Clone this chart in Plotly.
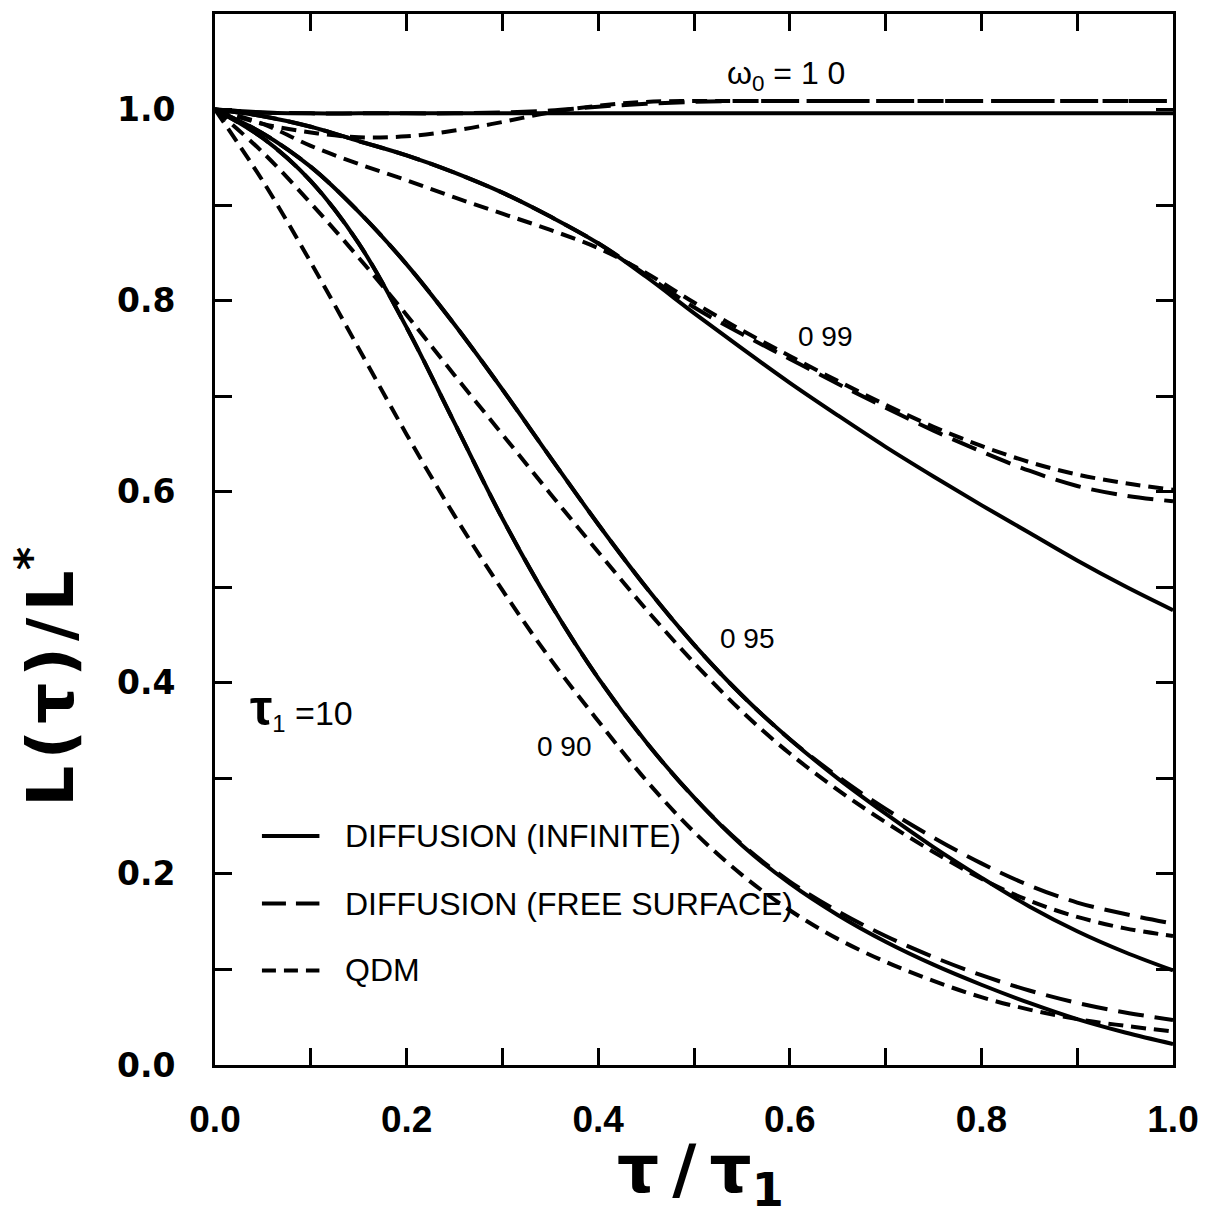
import plotly.graph_objects as go

# ---------------- data ----------------
tau_ratio = [0, 0.05, 0.1, 0.15, 0.2, 0.25, 0.3, 0.35, 0.4, 0.45, 0.5,
             0.55, 0.6, 0.65, 0.7, 0.75, 0.8, 0.85, 0.9, 0.95, 1.0]

# omega0 = 1.0
inf_100 = [1.0, 0.997, 0.996, 0.996, 0.996, 0.996, 0.996, 0.996, 0.996, 0.996, 0.996,
           0.996, 0.996, 0.996, 0.996, 0.996, 0.996, 0.996, 0.996, 0.996, 0.996]
free_100 = [1.0, 0.997, 0.996, 0.996, 0.996, 0.996, 0.997, 0.999, 1.003, 1.006, 1.008,
            1.009, 1.009, 1.009, 1.009, 1.009, 1.009, 1.009, 1.009, 1.009, 1.009]
qdm_100 = [1.0, 0.985, 0.976, 0.971, 0.972, 0.978, 0.987, 0.997, 1.004, 1.008, 1.009,
           1.009, 1.009, 1.009, 1.009, 1.009, 1.009, 1.009, 1.009, 1.009, 1.009]

# omega0 = 0.99
inf_099 = [1.0, 0.993, 0.982, 0.967, 0.952, 0.934, 0.913, 0.888, 0.86, 0.825, 0.787,
           0.75, 0.714, 0.68, 0.647, 0.616, 0.586, 0.557, 0.528, 0.501, 0.476]
free_099 = [1.0, 0.993, 0.982, 0.967, 0.952, 0.934, 0.913, 0.888, 0.86, 0.827, 0.793,
            0.765, 0.739, 0.713, 0.688, 0.664, 0.642, 0.622, 0.606, 0.596, 0.59]
qdm_099 = [1.0, 0.985, 0.962, 0.943, 0.926, 0.908, 0.891, 0.874, 0.855, 0.829, 0.798,
           0.769, 0.742, 0.716, 0.691, 0.668, 0.648, 0.631, 0.618, 0.609, 0.602]

# omega0 = 0.95
inf_095 = [1.0, 0.975, 0.94, 0.893, 0.838, 0.775, 0.707, 0.636, 0.566, 0.5, 0.44,
           0.387, 0.341, 0.3, 0.263, 0.228, 0.196, 0.166, 0.14, 0.118, 0.099]
free_095 = [1.0, 0.975, 0.94, 0.893, 0.838, 0.775, 0.707, 0.636, 0.566, 0.5, 0.44,
            0.387, 0.341, 0.302, 0.268, 0.238, 0.211, 0.188, 0.17, 0.158, 0.148]
qdm_095 = [1.0, 0.955, 0.902, 0.845, 0.785, 0.722, 0.66, 0.598, 0.537, 0.477, 0.421,
           0.37, 0.326, 0.288, 0.254, 0.223, 0.195, 0.172, 0.155, 0.143, 0.135]

# omega0 = 0.90
inf_090 = [1.0, 0.97, 0.925, 0.86, 0.772, 0.672, 0.572, 0.483, 0.405, 0.338, 0.28,
           0.23, 0.19, 0.157, 0.129, 0.105, 0.084, 0.065, 0.048, 0.034, 0.022]
free_090 = [1.0, 0.97, 0.925, 0.86, 0.772, 0.672, 0.572, 0.483, 0.405, 0.338, 0.28,
            0.231, 0.192, 0.161, 0.135, 0.113, 0.094, 0.078, 0.065, 0.055, 0.047]
qdm_090 = [1.0, 0.925, 0.84, 0.75, 0.66, 0.575, 0.497, 0.425, 0.36, 0.298, 0.244,
           0.199, 0.162, 0.132, 0.108, 0.088, 0.071, 0.058, 0.048, 0.041, 0.035]

curve_labels = ["0 99", "0 95", "0 90"]
legend_labels = ["DIFFUSION (INFINITE)", "DIFFUSION (FREE SURFACE)", "QDM"]

# ---------------- styles ----------------
LW = 4
SOLID = "solid"
LONG = "26px,11px"
SHORT = "15px,8px"
BLACK = "black"

fig = go.Figure()

groups = [
    ("1.0", inf_100, free_100, qdm_100),
    ("0.99", inf_099, free_099, qdm_099),
    ("0.95", inf_095, free_095, qdm_095),
    ("0.90", inf_090, free_090, qdm_090),
]
for w, inf_v, free_v, qdm_v in groups:
    for name, vals, dash in [(legend_labels[0], inf_v, SOLID),
                             (legend_labels[1], free_v, LONG),
                             (legend_labels[2], qdm_v, SHORT)]:
        fig.add_trace(go.Scatter(
            x=tau_ratio, y=vals, mode="lines",
            name=f"{name}, ω0={w}",
            line=dict(color=BLACK, width=LW, dash=dash, shape="spline", smoothing=1.0),
            showlegend=False, hoverinfo="skip",
        ))

# legend drawn inside the plot like the original
leg_y = [0.2396, 0.169, 0.099]
leg_dash = [SOLID, "24px,10px", "14px,8px"]
shapes = []
annotations = []
for yy, dash, lab in zip(leg_y, leg_dash, legend_labels):
    shapes.append(dict(type="line", xref="x", yref="y", x0=0.049, x1=0.109, y0=yy, y1=yy,
                       line=dict(color=BLACK, width=LW, dash=dash)))
    annotations.append(dict(xref="x", yref="y", x=0.134, y=yy, text=lab, showarrow=False,
                            xanchor="left", yanchor="middle",
                            font=dict(family="Liberation Sans", size=32, color=BLACK)))

label_font = dict(family="Liberation Sans", size=28, color=BLACK)
annotations += [
    dict(xref="x", yref="y", x=0.596, y=1.036, text="ω<sub>0</sub> = 1 0", showarrow=False,
         font=dict(family="Liberation Sans", size=32, color=BLACK)),
    dict(xref="x", yref="y", x=0.637, y=0.7625, text=curve_labels[0], showarrow=False, font=label_font),
    dict(xref="x", yref="y", x=0.556, y=0.446, text=curve_labels[1], showarrow=False, font=label_font),
    dict(xref="x", yref="y", x=0.365, y=0.333, text=curve_labels[2], showarrow=False, font=label_font),
    dict(xref="x", yref="y", x=0.034, y=0.373, xanchor="left",
         text="<span style='font-size:50px'><b>τ</b></span><sub>1</sub> =10", showarrow=False,
         font=dict(family="Liberation Sans", size=34, color=BLACK)),
    # axis titles
    dict(xref="paper", yref="paper", x=-0.176, y=0.37,
         text="<b>L\u200a(\u200aτ\u200a)\u200a/\u200aL<sup>*</sup></b>",
         textangle=-90, showarrow=False, xanchor="center", yanchor="middle",
         font=dict(family="DejaVu Sans", size=64, color=BLACK)),
    dict(xref="paper", yref="paper", x=0.507, y=-0.104, text="<b>τ\u2009/\u2009τ<sub>1</sub></b>",
         showarrow=False, xanchor="center", yanchor="middle",
         font=dict(family="DejaVu Sans", size=66, color=BLACK)),
]

fig.update_layout(
    width=1210, height=1220,
    margin=dict(l=215, r=30, t=11, b=155),
    paper_bgcolor="white", plot_bgcolor="white",
    showlegend=False,
    shapes=shapes, annotations=annotations,
)
fig.update_xaxes(
    range=[0, 1.0], tick0=0, dtick=0.2, tickformat=".1f",
    ticks="inside", ticklen=17, tickwidth=3, tickcolor=BLACK,
    minor=dict(dtick=0.1, ticks="inside", ticklen=17, tickwidth=3, tickcolor=BLACK, showgrid=False),
    showline=True, linecolor=BLACK, linewidth=3, mirror="ticks",
    showgrid=False, zeroline=False, ticklabelstandoff=20,
    tickfont=dict(family="Liberation Sans", size=37, color=BLACK, weight="bold"),
)
fig.update_yaxes(
    range=[0, 1.1], tick0=0, dtick=0.2, tickformat=".1f",
    ticks="inside", ticklen=17, tickwidth=3, tickcolor=BLACK,
    minor=dict(dtick=0.1, ticks="inside", ticklen=17, tickwidth=3, tickcolor=BLACK, showgrid=False),
    showline=True, linecolor=BLACK, linewidth=3, mirror="ticks",
    showgrid=False, zeroline=False, ticklabelstandoff=30,
    tickfont=dict(family="DejaVu Sans", size=33, color=BLACK, weight="bold"),
)

fig.write_html("out.html")
